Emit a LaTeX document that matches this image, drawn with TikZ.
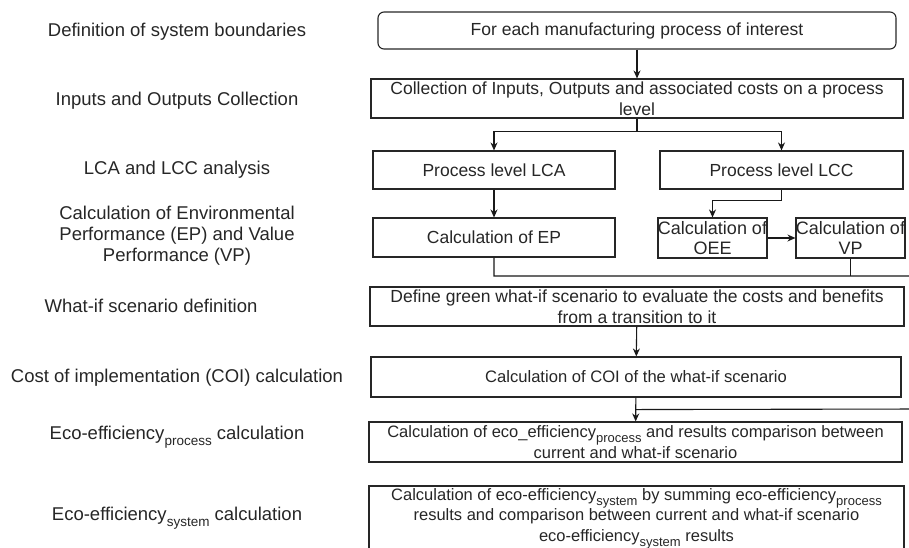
\documentclass[tikz,border=0pt]{standalone}
\usepackage{fontspec}
\setmainfont{Liberation Sans}
\usetikzlibrary{arrows.meta,calc}
\newcommand{\subtx}[1]{\raisebox{-0.3em}{\fontsize{13.5}{14}\selectfont #1}}
\newcommand{\subsm}[1]{\raisebox{-0.3em}{\fontsize{13}{14}\selectfont #1}}
\tikzset{
  box/.style={draw=black!85, line width=1.1pt, rectangle, inner sep=0pt, align=center,
    font=\fontsize{17.5}{20.5}\selectfont, text=black!85},
  lbl/.style={inner sep=0pt, align=center, font=\fontsize{18.5}{21}\selectfont, text=black!85},
  conn/.style={draw=black!90, line width=1.1pt},
  arr/.style={conn, -{Stealth[length=8pt,width=7pt]}},
}
\begin{document}
\begin{tikzpicture}[x=1pt,y=-1pt]
\useasboundingbox (0,0) rectangle (909,547);
\clip (0,0) rectangle (909,547);
% left labels
\node[lbl] (l1) at (177,32) {Definition of system boundaries};
\node[lbl] (l2) at (177,101) {Inputs and Outputs Collection};
\node[lbl] (l3) at (177,170) {LCA and LCC analysis};
\node[lbl] (l4) at (177,236) {Calculation of Environmental\\Performance (EP) and Value\\Performance (VP)};
\node[lbl] (l5) at (151,306) {What-if scenario definition};
\node[lbl] (l6) at (177,378) {Cost of implementation (COI) calculation};
\node[lbl] (l7) at (177,437) {Eco-efficiency\subtx{process} calculation};
\node[lbl] (l8) at (177,518) {Eco-efficiency\subtx{system} calculation};
% boxes
\node[box, rounded corners=6pt, minimum width=518pt, minimum height=37pt] (top) at (637,30.5) {For each manufacturing process of interest};
\node[box, minimum width=532pt, minimum height=39pt] (coll) at (637,98.5) {Collection of Inputs, Outputs and associated costs on a process\\level};
\node[box, minimum width=242pt, minimum height=38pt] (lca) at (494,170) {Process level LCA};
\node[box, minimum width=243pt, minimum height=38pt] (lcc) at (781.5,170) {Process level LCC};
\node[box, minimum width=242pt, minimum height=39pt] (ep) at (494,237.5) {Calculation of EP};
\node[box, minimum width=109pt, minimum height=40pt, font=\fontsize{18}{20}\selectfont] (oee) at (712.5,238) {Calculation of\\OEE};
\node[box, minimum width=107pt, minimum height=40pt, font=\fontsize{18}{20}\selectfont] (vp) at (850.5,238) {Calculation of\\VP};
\node[box, minimum width=534pt, minimum height=39pt] (def) at (637,306.5) {Define green what-if scenario to evaluate the costs and benefits\\from a transition to it};
\node[box, minimum width=530pt, minimum height=40pt, font=\fontsize{16.6}{20}\selectfont] (coi) at (636,377) {Calculation of COI of the what-if scenario};
\node[box, minimum width=533pt, minimum height=40pt, font=\fontsize{16.5}{20.5}\selectfont] (ecop) at (635.5,442) {Calculation of eco\_efficiency\subsm{process} and results comparison between\\current and what-if scenario};
\node[box, minimum width=535pt, minimum height=65pt, font=\fontsize{16.5}{20.5}\selectfont] (ecos) at (636.5,518.5) {Calculation of eco-efficiency\subsm{system} by summing eco-efficiency\subsm{process}\\results and comparison between current and what-if scenario\\eco-efficiency\subsm{system} results};
% helper coordinates
\coordinate (split) at ($(coll.south)+(0,13)$);
\coordinate (lccturn) at ($(lcc.south)+(0,11)$);
\coordinate (fbR1) at (920,276);
\coordinate (fbR2) at (920,409);
\coordinate (join) at ($(coi.south)+(0,12)$);
% connectors
\draw[arr] (top) -- (coll);
\draw[conn] (coll.south) -- (split);
\draw[arr] (split) -| (lca.north);
\draw[arr] (split) -| (lcc.north);
\draw[arr] (lca) -- (ep);
\draw[conn] (lcc.south) -- (lccturn);
\draw[arr] (lccturn) -| (oee.north);
\draw[arr] (oee) -- (vp);
\draw[conn] (ep.south) |- (fbR1) -- (fbR2) -- (join);
\draw[conn] (vp.south) -- (vp.south |- fbR1);
\draw[arr] (def) -- (coi);
\draw[arr] (coi) -- (ecop);
\end{tikzpicture}
\end{document}
